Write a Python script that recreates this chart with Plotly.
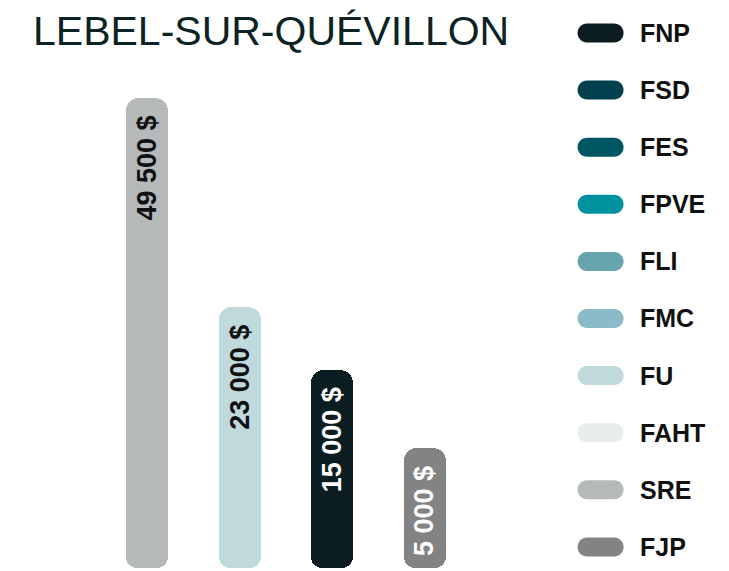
import plotly.graph_objects as go

# ---- data ----
title_text = "LEBEL-SUR-QUÉVILLON"
bar_programs = ["SRE", "FU", "FNP", "FJP"]
bar_values = [49500, 23000, 15000, 5000]
bar_labels = ["49 500 $", "23 000 $", "15 000 $", "5 000 $"]

legend_names = ["FNP", "FSD", "FES", "FPVE", "FLI", "FMC", "FU", "FAHT", "SRE", "FJP"]
legend_colors = ["#0b1d20", "#00404f", "#005763", "#00929e", "#66a4ae",
                 "#8bbbc6", "#bfd9dd", "#e8ecec", "#b5b9b9", "#838384"]

# ---- style / layout constants ----
PAGE_OFF = 8                      # default body margin of the html page
W, H = 729 - PAGE_OFF, 571 - PAGE_OFF
PLOT_LEFT_PAGE, PLOT_RIGHT_PAGE = 100.9, 471.3
PLOT_TOP_PAGE, PLOT_BOTTOM_PAGE = 8, 568
ML = PLOT_LEFT_PAGE - PAGE_OFF
MR = W - (PLOT_RIGHT_PAGE - PAGE_OFF)
MT = PLOT_TOP_PAGE - PAGE_OFF
MB = H - (PLOT_BOTTOM_PAGE - PAGE_OFF)
PLOT_W = PLOT_RIGHT_PAGE - PLOT_LEFT_PAGE
PLOT_H = PLOT_BOTTOM_PAGE - PLOT_TOP_PAGE

FLOOR = -10200          # axis floor (bars grow from here)
PX_PER_UNIT = 0.007875
Y_TOP = FLOOR + PLOT_H / PX_PER_UNIT
BODY_BASE = FLOOR + 12.5 / PX_PER_UNIT     # body starts above the rounded foot
FOOT_TOP = FLOOR + 30 / PX_PER_UNIT        # foot overlaps the body

def px_x(p):
    return (p - PLOT_LEFT_PAGE) / PLOT_W

def px_y(p):
    return (PLOT_BOTTOM_PAGE - p) / PLOT_H

color_map = dict(zip(legend_names, legend_colors))
bar_colors = [color_map[p] for p in bar_programs]
text_colors = ["#111111", "#111111", "#ffffff", "#ffffff"]

BOLD = "Liberation Sans, Arial, Helvetica, sans-serif"
BAR_W = 0.4536

fig = go.Figure()
# main body of each bar (rounded top)
fig.add_trace(go.Bar(
    x=bar_programs, y=[v - BODY_BASE for v in bar_values], base=BODY_BASE,
    marker=dict(color=bar_colors, cornerradius=13, line=dict(width=0)),
    width=BAR_W, hoverinfo="skip", showlegend=False,
))
# rounded foot of each bar
fig.add_trace(go.Bar(
    x=bar_programs, y=[FLOOR - FOOT_TOP] * len(bar_programs), base=FOOT_TOP,
    marker=dict(color=bar_colors, cornerradius=11, line=dict(width=0)),
    width=BAR_W, hoverinfo="skip", showlegend=False,
))

annotations = []
for p, v, t, c in zip(bar_programs, bar_values, bar_labels, text_colors):
    annotations.append(dict(
        x=p, y=v, xref="x", yref="y", text=t, showarrow=False,
        textangle=-90, xanchor="center", yanchor="top", yshift=-16,
        font=dict(family=BOLD, size=27, color=c, weight="bold"),
    ))

shapes = []
SW_CX, SW_W, SW_H = 601, 46, 19
TXT_X = 638
ROW0, ROW_STEP = 33, 57.1
r = SW_H / 2
k = 0.5523 * r
hw = SW_W / 2
pill = (f"M {-hw + r},{-r} L {hw - r},{-r} "
        f"C {hw - r + k},{-r} {hw},{-k} {hw},0 "
        f"C {hw},{k} {hw - r + k},{r} {hw - r},{r} "
        f"L {-hw + r},{r} "
        f"C {-hw + r - k},{r} {-hw},{k} {-hw},0 "
        f"C {-hw},{-k} {-hw + r - k},{-r} {-hw + r},{-r} Z")
for i, (name, col) in enumerate(zip(legend_names, legend_colors)):
    cy = ROW0 + ROW_STEP * i
    shapes.append(dict(
        type="path", xref="paper", yref="paper",
        xsizemode="pixel", ysizemode="pixel",
        xanchor=px_x(SW_CX), yanchor=px_y(cy),
        path=pill, fillcolor=col, line=dict(width=0), layer="above",
    ))
    annotations.append(dict(
        x=px_x(TXT_X), y=px_y(cy), xref="paper", yref="paper",
        text=name, showarrow=False, xanchor="left", yanchor="middle",
        font=dict(family=BOLD, size=25, color="#111111", weight="bold"),
    ))

# title as a free annotation
annotations.append(dict(
    x=px_x(31), y=px_y(31), xref="paper", yref="paper",
    text=title_text, showarrow=False, xanchor="left", yanchor="middle",
    font=dict(family="Liberation Sans, Arial, sans-serif", size=41, color="#0d2225"),
))

fig.update_layout(
    width=W, height=H, autosize=False,
    margin=dict(l=ML, r=MR, t=MT, b=MB, pad=0),
    paper_bgcolor="white", plot_bgcolor="white",
    barmode="overlay", bargap=0,
    xaxis=dict(visible=False, range=[-0.5, 3.5], type="category", fixedrange=True),
    yaxis=dict(visible=False, range=[FLOOR, Y_TOP], fixedrange=True),
    shapes=shapes, annotations=annotations,
    showlegend=False,
)

fig.write_html("out.html")
